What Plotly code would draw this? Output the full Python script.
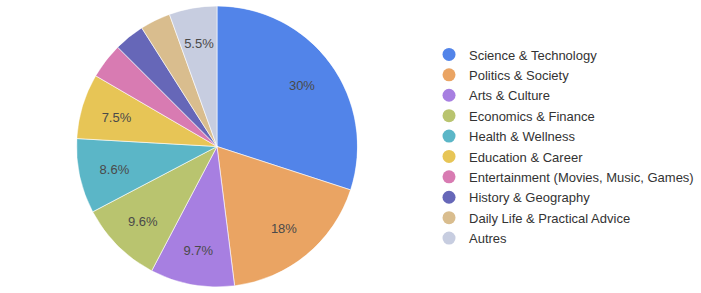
import plotly.graph_objects as go

categories = ["Science & Technology", "Politics & Society", "Arts & Culture",
              "Economics & Finance", "Health & Wellness", "Education & Career",
              "Entertainment (Movies, Music, Games)", "History & Geography",
              "Daily Life & Practical Advice", "Autres"]
values = [30.0, 18.0, 9.7, 9.6, 8.6, 7.5, 4.1, 3.5, 3.5, 5.5]
colors = ["#5284E9", "#EAA463", "#A77FE1", "#B9C46F", "#5BB6C7", "#E7C556",
          "#D87BB2", "#6667B8", "#D9BD8E", "#C7CDE0"]

total = sum(values)
shares = [v / total for v in values]
labels_text = [("%.3g%%" % (s * 100)) if s >= 0.05 else "" for s in shares]
# slice geometry (degrees, clockwise from 12 o'clock)
widths = [s * 360 for s in shares]
mid_angles = []
acc = 0.0
for w in widths:
    mid_angles.append(acc + w / 2)
    acc += w

dom = dict(x=[0, 434 / 701], y=[0, 1])
dom_text = dict(x=[0, 434 / 701], y=[0, 1 - 4 / 281])

fig = go.Figure()
# pie slices drawn as full-radius polar wedges
fig.add_trace(go.Barpolar(
    r=[1] * len(values), theta=mid_angles, width=widths,
    marker=dict(color=colors, line=dict(color="white", width=0.6)),
    customdata=[round(s * 100, 1) for s in shares], text=categories,
    hovertemplate="%{text}: %{customdata}%<extra></extra>",
    showlegend=False, subplot="polar",
))
# percentage labels at ~3/4 of the radius
fig.add_trace(go.Scatterpolar(
    r=[0.758] * len(values), theta=mid_angles, mode="text", text=labels_text,
    textfont=dict(color="#4a4a4a", size=13, family="Arial"),
    showlegend=False, hoverinfo="skip", subplot="polar2",
))
for c, col in zip(categories, colors):
    fig.add_trace(go.Scatter(x=[None], y=[None], mode="markers", name=c, legendgroup=c,
                             marker=dict(symbol="circle", size=13, color=col)))

polar_common = dict(bgcolor="rgba(0,0,0,0)", bargap=0,
                    radialaxis=dict(range=[0, 1], visible=False),
                    angularaxis=dict(direction="clockwise", rotation=90, visible=False))
fig.update_layout(
    width=701, height=293,
    margin=dict(l=0, r=0, t=6, b=6),
    paper_bgcolor="white", plot_bgcolor="white",
    xaxis=dict(visible=False), yaxis=dict(visible=False),
    polar=dict(domain=dom, **polar_common),
    polar2=dict(domain=dom_text, **polar_common),
    font=dict(family="Arial", color="#333333"),
    legend=dict(x=0.612, xanchor="left", y=0.5, yanchor="middle",
                font=dict(size=13, color="#333333"), itemsizing="trace",
                tracegroupgap=0.5),
)
fig.write_html("out.html")
